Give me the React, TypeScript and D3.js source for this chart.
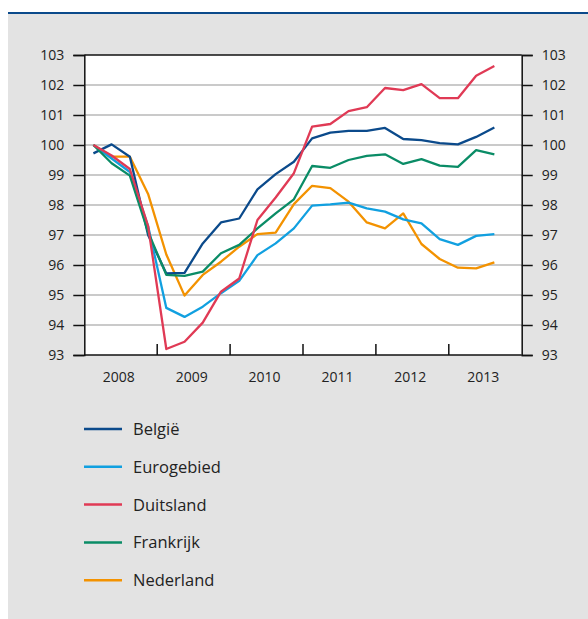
import { useEffect, useRef } from "react";
import * as d3 from "d3";

// quarterly index, 2008Q1 .. 2013Q3
const years = ["2008", "2009", "2010", "2011", "2012", "2013"];
const yTicks = [93, 94, 95, 96, 97, 98, 99, 100, 101, 102, 103];

const belgie = [99.72, 100.02, 99.61, 97.0, 95.72, 95.74, 96.72, 97.42, 97.55, 98.52, 99.03, 99.44, 100.22, 100.41, 100.47, 100.47, 100.57, 100.2, 100.16, 100.06, 100.02, 100.27, 100.58];
const eurogebied = [100, 99.55, 99.1, 97.3, 94.57, 94.27, 94.61, 95.06, 95.47, 96.33, 96.72, 97.22, 97.98, 98.02, 98.08, 97.89, 97.78, 97.52, 97.39, 96.86, 96.67, 96.97, 97.03];
const duitsland = [100, 99.65, 99.2, 97.3, 93.2, 93.44, 94.08, 95.11, 95.55, 97.5, 98.25, 99.06, 100.61, 100.7, 101.13, 101.26, 101.9, 101.83, 102.03, 101.56, 101.56, 102.31, 102.63];
const frankrijk = [100, 99.39, 98.98, 97.1, 95.67, 95.64, 95.78, 96.39, 96.67, 97.22, 97.72, 98.19, 99.3, 99.24, 99.5, 99.64, 99.69, 99.37, 99.53, 99.31, 99.27, 99.83, 99.69];
const nederland = [100, 99.61, 99.61, 98.37, 96.35, 94.98, 95.67, 96.11, 96.61, 97.03, 97.08, 98.03, 98.64, 98.56, 98.11, 97.42, 97.22, 97.72, 96.7, 96.2, 95.91, 95.89, 96.09];

const seriesNames = ["België", "Eurogebied", "Duitsland", "Frankrijk", "Nederland"];
const seriesColors = ["#0b4a8b", "#11a0e0", "#e03a55", "#0a8c66", "#f39200"];

const W = 588;
const H = 619;

export default function App() {
  const svgRef = useRef<SVGSVGElement>(null);

  useEffect(() => {
    const svg = d3.select(svgRef.current);
    svg.selectAll("*").remove();

    const font = "'Open Sans', 'Noto Sans', sans-serif";
    const left = 84.3;
    const right = 521.7;
    const top = 55;
    const bottom = 355;

    // background
    svg.append("rect").attr("x", 8).attr("y", 14).attr("width", W - 8).attr("height", H - 14).attr("fill", "#e3e3e3");
    svg.append("line").attr("x1", 8).attr("x2", W).attr("y1", 13).attr("y2", 13)
      .attr("stroke", "#0b4a8b").attr("stroke-width", 2);

    const x = d3.scaleLinear().domain([0, years.length * 4]).range([left, right]);
    const y = d3.scaleLinear().domain([93, 103]).range([bottom, top]);

    svg.append("rect").attr("x", left).attr("y", top).attr("width", right - left).attr("height", bottom - top).attr("fill", "#fff");

    // gridlines
    svg.append("g").selectAll("line")
      .data(yTicks.filter((t) => t !== 93 && t !== 103))
      .enter()
      .append("line")
      .attr("x1", left).attr("x2", right)
      .attr("y1", (d) => y(d)).attr("y2", (d) => y(d))
      .attr("stroke", "#b8b8b8").attr("stroke-width", 1.5);

    // left / right axis
    const axisL = svg.append("g").attr("transform", `translate(${left},0)`)
      .call(d3.axisLeft(y).tickValues(yTicks).tickSize(11).tickPadding(9).tickFormat(d3.format("d")));
    const axisR = svg.append("g").attr("transform", `translate(${right},0)`)
      .call(d3.axisRight(y).tickValues(yTicks).tickSize(11).tickPadding(9).tickFormat(d3.format("d")));
    [axisL, axisR].forEach((a) => {
      a.select(".domain").attr("stroke", "#111").attr("stroke-width", 1.5);
      a.selectAll(".tick line").attr("stroke", "#111").attr("stroke-width", 1.5);
      a.selectAll(".tick text").attr("font-family", font).attr("font-size", 14).attr("fill", "#222");
    });

    // top border and x axis
    [top, bottom].forEach((yy) => {
      svg.append("line").attr("x1", left).attr("x2", right).attr("y1", yy).attr("y2", yy)
        .attr("stroke", "#111").attr("stroke-width", 1.5);
    });

    // year separators
    svg.append("g").selectAll("line")
      .data(d3.range(1, years.length))
      .enter()
      .append("line")
      .attr("x1", (d) => x(d * 4)).attr("x2", (d) => x(d * 4))
      .attr("y1", bottom).attr("y2", bottom - 11)
      .attr("stroke", "#111").attr("stroke-width", 1.5);

    svg.append("g").selectAll("text")
      .data(years)
      .enter()
      .append("text")
      .attr("x", (d, i) => x(i * 4 + 2) - 2)
      .attr("y", 382)
      .attr("text-anchor", "middle")
      .attr("font-family", font).attr("font-size", 14).attr("fill", "#222")
      .text((d) => d);

    // series
    const allSeries = [belgie, eurogebied, duitsland, frankrijk, nederland];
    const line = d3.line<number>().x((d, i) => x(i + 0.5)).y((d) => y(d));

    [4, 0, 1, 3, 2].forEach((k) => {
      svg.append("path")
        .datum(allSeries[k])
        .attr("d", line)
        .attr("fill", "none")
        .attr("stroke", seriesColors[k])
        .attr("stroke-width", 2.3)
        .attr("stroke-linejoin", "round");
    });

    // legend
    const legend = svg.append("g");
    seriesNames.forEach((name, i) => {
      const ly = 429 + i * 37.8;
      legend.append("line").attr("x1", 84).attr("x2", 122).attr("y1", ly).attr("y2", ly)
        .attr("stroke", seriesColors[i]).attr("stroke-width", 2.5);
      legend.append("text").attr("x", 133).attr("y", ly + 6)
        .attr("font-family", font).attr("font-size", 16.5).attr("fill", "#222")
        .text(name);
    });
  }, []);

  return (
    <div style={{ position: "absolute", left: 0, top: 0 }}>
      <svg ref={svgRef} width={W} height={H} style={{ display: "block" }}></svg>
    </div>
  );
}
